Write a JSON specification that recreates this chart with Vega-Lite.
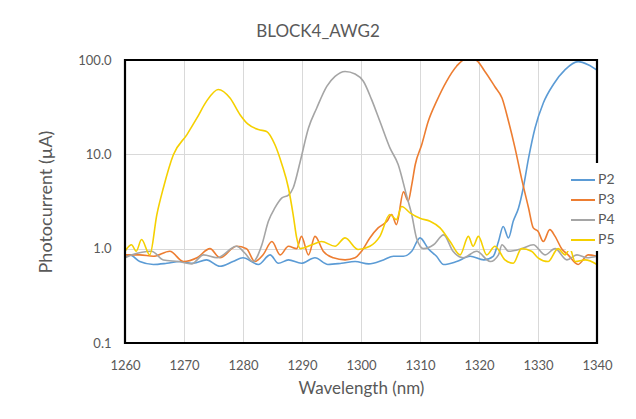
{
  "$schema": "https://vega.github.io/schema/vega-lite/v6.json",
  "width": 472,
  "height": 283,
  "autosize": "none",
  "padding": {"left": 125, "top": 60, "right": 39, "bottom": 76},
  "background": "white",
  "view": {"stroke": null},
  "title": {"text": "BLOCK4_AWG2", "anchor": "middle", "dx": -43, "offset": 13, "font": "Lato", "fontSize": 17, "fontWeight": "normal", "color": "#595959"},
  "config": {
    "font": "Lato"
  },
  "datasets": {
    "curves": [
      {"wl":1260,"cur":0.80,"s":"P2"},{"wl":1260.8,"cur":0.86,"s":"P2"},{"wl":1262.5,"cur":0.73,"s":"P2"},{"wl":1264.8,"cur":0.68,"s":"P2"},{"wl":1267.1,"cur":0.70,"s":"P2"},{"wl":1269.3,"cur":0.73,"s":"P2"},{"wl":1271.6,"cur":0.70,"s":"P2"},{"wl":1273.8,"cur":0.76,"s":"P2"},{"wl":1276.1,"cur":0.65,"s":"P2"},{"wl":1278.3,"cur":0.73,"s":"P2"},{"wl":1280,"cur":0.80,"s":"P2"},{"wl":1282.6,"cur":0.68,"s":"P2"},{"wl":1284.6,"cur":0.86,"s":"P2"},{"wl":1286,"cur":0.70,"s":"P2"},{"wl":1287.7,"cur":0.76,"s":"P2"},{"wl":1289.9,"cur":0.70,"s":"P2"},{"wl":1292.2,"cur":0.80,"s":"P2"},{"wl":1294.4,"cur":0.68,"s":"P2"},{"wl":1296.7,"cur":0.70,"s":"P2"},{"wl":1299,"cur":0.73,"s":"P2"},{"wl":1301.3,"cur":0.69,"s":"P2"},{"wl":1303.8,"cur":0.76,"s":"P2"},{"wl":1305.5,"cur":0.83,"s":"P2"},{"wl":1307.2,"cur":0.83,"s":"P2"},{"wl":1308.6,"cur":0.94,"s":"P2"},{"wl":1310,"cur":1.3,"s":"P2"},{"wl":1311.4,"cur":1.0,"s":"P2"},{"wl":1312.8,"cur":0.83,"s":"P2"},{"wl":1314,"cur":0.68,"s":"P2"},{"wl":1316.2,"cur":0.73,"s":"P2"},{"wl":1318.5,"cur":0.83,"s":"P2"},{"wl":1320.8,"cur":0.76,"s":"P2"},{"wl":1322.4,"cur":0.83,"s":"P2"},{"wl":1323.3,"cur":1.19,"s":"P2"},{"wl":1324.1,"cur":1.72,"s":"P2"},{"wl":1325,"cur":1.3,"s":"P2"},{"wl":1325.8,"cur":1.95,"s":"P2"},{"wl":1326.7,"cur":2.7,"s":"P2"},{"wl":1327.5,"cur":4.4,"s":"P2"},{"wl":1328.4,"cur":9.1,"s":"P2"},{"wl":1329.5,"cur":19,"s":"P2"},{"wl":1330.9,"cur":35,"s":"P2"},{"wl":1332.6,"cur":55,"s":"P2"},{"wl":1334.6,"cur":79,"s":"P2"},{"wl":1336.8,"cur":96,"s":"P2"},{"wl":1338.5,"cur":89,"s":"P2"},{"wl":1340,"cur":78,"s":"P2"},
      {"wl":1260,"cur":0.86,"s":"P3"},{"wl":1262.5,"cur":0.86,"s":"P3"},{"wl":1264.8,"cur":0.83,"s":"P3"},{"wl":1267.6,"cur":0.94,"s":"P3"},{"wl":1269.9,"cur":0.73,"s":"P3"},{"wl":1272.2,"cur":0.80,"s":"P3"},{"wl":1274.4,"cur":1.0,"s":"P3"},{"wl":1276.1,"cur":0.80,"s":"P3"},{"wl":1278.9,"cur":1.06,"s":"P3"},{"wl":1280.6,"cur":1.0,"s":"P3"},{"wl":1282,"cur":0.73,"s":"P3"},{"wl":1283.4,"cur":0.86,"s":"P3"},{"wl":1284.9,"cur":1.19,"s":"P3"},{"wl":1286.3,"cur":0.86,"s":"P3"},{"wl":1287.7,"cur":1.06,"s":"P3"},{"wl":1289.1,"cur":1.0,"s":"P3"},{"wl":1289.9,"cur":1.35,"s":"P3"},{"wl":1291.1,"cur":0.86,"s":"P3"},{"wl":1292.2,"cur":1.35,"s":"P3"},{"wl":1293.6,"cur":0.94,"s":"P3"},{"wl":1295.3,"cur":0.80,"s":"P3"},{"wl":1297.3,"cur":0.76,"s":"P3"},{"wl":1299,"cur":0.80,"s":"P3"},{"wl":1300.1,"cur":0.94,"s":"P3"},{"wl":1301.5,"cur":1.3,"s":"P3"},{"wl":1302.9,"cur":1.66,"s":"P3"},{"wl":1304.4,"cur":1.95,"s":"P3"},{"wl":1305.2,"cur":2.3,"s":"P3"},{"wl":1306,"cur":1.8,"s":"P3"},{"wl":1307.2,"cur":4.0,"s":"P3"},{"wl":1308,"cur":3.2,"s":"P3"},{"wl":1308.6,"cur":4.75,"s":"P3"},{"wl":1309.2,"cur":7.8,"s":"P3"},{"wl":1310.3,"cur":12.7,"s":"P3"},{"wl":1311.4,"cur":22.4,"s":"P3"},{"wl":1312.8,"cur":36.4,"s":"P3"},{"wl":1314.5,"cur":59.5,"s":"P3"},{"wl":1316.2,"cur":86,"s":"P3"},{"wl":1317.6,"cur":101,"s":"P3"},{"wl":1319.3,"cur":101,"s":"P3"},{"wl":1321,"cur":75.6,"s":"P3"},{"wl":1322.7,"cur":52,"s":"P3"},{"wl":1323.9,"cur":39.5,"s":"P3"},{"wl":1325,"cur":22.4,"s":"P3"},{"wl":1326.1,"cur":11.7,"s":"P3"},{"wl":1327.2,"cur":5.6,"s":"P3"},{"wl":1328.4,"cur":2.7,"s":"P3"},{"wl":1329.2,"cur":1.66,"s":"P3"},{"wl":1330,"cur":1.53,"s":"P3"},{"wl":1330.9,"cur":1.19,"s":"P3"},{"wl":1332,"cur":1.59,"s":"P3"},{"wl":1332.9,"cur":1.35,"s":"P3"},{"wl":1334,"cur":1.0,"s":"P3"},{"wl":1335.1,"cur":0.86,"s":"P3"},{"wl":1336.8,"cur":0.68,"s":"P3"},{"wl":1338.5,"cur":0.86,"s":"P3"},{"wl":1340,"cur":0.83,"s":"P3"},
      {"wl":1260,"cur":0.80,"s":"P4"},{"wl":1261.2,"cur":0.86,"s":"P4"},{"wl":1264.5,"cur":0.94,"s":"P4"},{"wl":1266.5,"cur":0.76,"s":"P4"},{"wl":1269,"cur":0.73,"s":"P4"},{"wl":1271.3,"cur":0.69,"s":"P4"},{"wl":1273.3,"cur":0.86,"s":"P4"},{"wl":1275.6,"cur":0.80,"s":"P4"},{"wl":1278.9,"cur":1.06,"s":"P4"},{"wl":1280.3,"cur":0.90,"s":"P4"},{"wl":1281.7,"cur":0.73,"s":"P4"},{"wl":1283.2,"cur":1.1,"s":"P4"},{"wl":1284.3,"cur":1.95,"s":"P4"},{"wl":1285.4,"cur":2.7,"s":"P4"},{"wl":1286.6,"cur":3.45,"s":"P4"},{"wl":1287.7,"cur":3.7,"s":"P4"},{"wl":1288.5,"cur":4.4,"s":"P4"},{"wl":1289.7,"cur":8.4,"s":"P4"},{"wl":1291.1,"cur":19,"s":"P4"},{"wl":1292.5,"cur":31,"s":"P4"},{"wl":1294.2,"cur":52.5,"s":"P4"},{"wl":1295.6,"cur":67,"s":"P4"},{"wl":1297.3,"cur":75.6,"s":"P4"},{"wl":1299,"cur":71,"s":"P4"},{"wl":1300.4,"cur":59.5,"s":"P4"},{"wl":1301.8,"cur":38,"s":"P4"},{"wl":1303.2,"cur":22.4,"s":"P4"},{"wl":1304.9,"cur":11.7,"s":"P4"},{"wl":1306.3,"cur":7.8,"s":"P4"},{"wl":1307.7,"cur":3.7,"s":"P4"},{"wl":1308.6,"cur":2.3,"s":"P4"},{"wl":1309.4,"cur":1.3,"s":"P4"},{"wl":1310.6,"cur":1.0,"s":"P4"},{"wl":1312.3,"cur":1.1,"s":"P4"},{"wl":1314,"cur":1.4,"s":"P4"},{"wl":1315.6,"cur":0.94,"s":"P4"},{"wl":1317.3,"cur":0.80,"s":"P4"},{"wl":1319.6,"cur":0.94,"s":"P4"},{"wl":1321.9,"cur":0.73,"s":"P4"},{"wl":1323.3,"cur":0.86,"s":"P4"},{"wl":1323.9,"cur":1.1,"s":"P4"},{"wl":1325,"cur":0.94,"s":"P4"},{"wl":1327.2,"cur":1.0,"s":"P4"},{"wl":1329.2,"cur":1.1,"s":"P4"},{"wl":1331.2,"cur":0.86,"s":"P4"},{"wl":1332.9,"cur":1.0,"s":"P4"},{"wl":1334.9,"cur":0.76,"s":"P4"},{"wl":1336.6,"cur":0.86,"s":"P4"},{"wl":1338.3,"cur":0.80,"s":"P4"},{"wl":1340,"cur":0.83,"s":"P4"},
      {"wl":1260,"cur":0.94,"s":"P5"},{"wl":1261.1,"cur":1.1,"s":"P5"},{"wl":1261.9,"cur":0.94,"s":"P5"},{"wl":1262.8,"cur":1.25,"s":"P5"},{"wl":1264.2,"cur":0.86,"s":"P5"},{"wl":1265.4,"cur":2.3,"s":"P5"},{"wl":1266.5,"cur":4.4,"s":"P5"},{"wl":1268.2,"cur":9.9,"s":"P5"},{"wl":1270.5,"cur":16.2,"s":"P5"},{"wl":1272.2,"cur":24.3,"s":"P5"},{"wl":1273.8,"cur":36.4,"s":"P5"},{"wl":1275.8,"cur":48.7,"s":"P5"},{"wl":1277.8,"cur":39.5,"s":"P5"},{"wl":1279.5,"cur":26.3,"s":"P5"},{"wl":1280.8,"cur":21,"s":"P5"},{"wl":1282.6,"cur":18.3,"s":"P5"},{"wl":1284,"cur":17.5,"s":"P5"},{"wl":1285.4,"cur":12.7,"s":"P5"},{"wl":1286.6,"cur":7.8,"s":"P5"},{"wl":1287.7,"cur":4.4,"s":"P5"},{"wl":1288.5,"cur":2.3,"s":"P5"},{"wl":1289.1,"cur":1.3,"s":"P5"},{"wl":1289.7,"cur":1.0,"s":"P5"},{"wl":1291.7,"cur":1.1,"s":"P5"},{"wl":1293.3,"cur":1.19,"s":"P5"},{"wl":1295.6,"cur":1.06,"s":"P5"},{"wl":1297.3,"cur":1.3,"s":"P5"},{"wl":1299.5,"cur":0.98,"s":"P5"},{"wl":1301.5,"cur":1.06,"s":"P5"},{"wl":1303.2,"cur":1.35,"s":"P5"},{"wl":1304.9,"cur":2.3,"s":"P5"},{"wl":1306,"cur":2.03,"s":"P5"},{"wl":1306.9,"cur":2.8,"s":"P5"},{"wl":1308.3,"cur":2.4,"s":"P5"},{"wl":1310,"cur":2.1,"s":"P5"},{"wl":1311.7,"cur":1.95,"s":"P5"},{"wl":1313.4,"cur":1.66,"s":"P5"},{"wl":1315.1,"cur":1.19,"s":"P5"},{"wl":1316.8,"cur":0.86,"s":"P5"},{"wl":1318.2,"cur":1.35,"s":"P5"},{"wl":1319,"cur":1.06,"s":"P5"},{"wl":1319.9,"cur":1.35,"s":"P5"},{"wl":1321.3,"cur":0.86,"s":"P5"},{"wl":1322.7,"cur":1.06,"s":"P5"},{"wl":1324.4,"cur":0.76,"s":"P5"},{"wl":1325.8,"cur":0.70,"s":"P5"},{"wl":1327.2,"cur":1.0,"s":"P5"},{"wl":1328.9,"cur":0.94,"s":"P5"},{"wl":1330,"cur":0.80,"s":"P5"},{"wl":1331.7,"cur":0.73,"s":"P5"},{"wl":1333.4,"cur":1.0,"s":"P5"},{"wl":1334.6,"cur":0.86,"s":"P5"},{"wl":1335.4,"cur":1.0,"s":"P5"},{"wl":1336.3,"cur":0.73,"s":"P5"},{"wl":1338,"cur":0.76,"s":"P5"},{"wl":1340,"cur":0.68,"s":"P5"}
    ]
  },
  "layer": [
    {
      "data": {"name": "curves"},
      "mark": {"type": "line", "strokeWidth": 1.6, "interpolate": "monotone", "clip": true},
      "encoding": {
        "x": {
          "field": "wl", "type": "quantitative",
          "scale": {"domain": [1260, 1340], "nice": false, "zero": false},
          "axis": {"title": "Wavelength (nm)", "values": [1260,1270,1280,1290,1300,1310,1320,1330,1340], "format": "d", "domain": false, "ticks": false, "grid": true, "gridColor": "#D9D9D9", "labelFlush": false, "labelPadding": 16, "labelFontSize": 13, "labelColor": "#595959", "titleFontSize": 17, "titleFontWeight": "normal", "titleColor": "#595959", "titlePadding": 8}
        },
        "y": {
          "field": "cur", "type": "quantitative",
          "scale": {"type": "log", "domain": [0.1, 100], "nice": false},
          "axis": {"title": "Photocurrent (µA)", "values": [0.1,1,10,100], "format": ".1f", "domain": false, "ticks": false, "grid": true, "gridColor": "#D9D9D9", "labelFlush": false, "labelPadding": 14, "labelFontSize": 13, "labelColor": "#595959", "titleFontSize": 18, "titleFontWeight": "normal", "titleColor": "#595959", "titlePadding": 22}
        },
        "color": {
          "field": "s", "type": "nominal",
          "scale": {"domain": ["P2","P3","P4","P5"], "range": ["#5B9BD5","#ED7D31","#A5A5A5","#F5D000"]},
          "legend": {"title": null, "orient": "none", "legendX": 441, "legendY": 103, "fillColor": "white", "padding": 4, "symbolType": "stroke", "symbolSize": 576, "symbolStrokeWidth": 2, "labelFontSize": 14, "labelColor": "#595959", "labelOffset": 2, "rowPadding": 0}
        }
      }
    },
    {
      "data": {"values": [{"x0": 1260, "x1": 1340, "y0": 0.1, "y1": 100}]},
      "mark": {"type": "rect", "fill": null, "stroke": "#000000", "strokeWidth": 2.2, "clip": false},
      "encoding": {
        "x": {"field": "x0", "type": "quantitative"},
        "x2": {"field": "x1"},
        "y": {"field": "y0", "type": "quantitative"},
        "y2": {"field": "y1"}
      }
    }
  ]
}
